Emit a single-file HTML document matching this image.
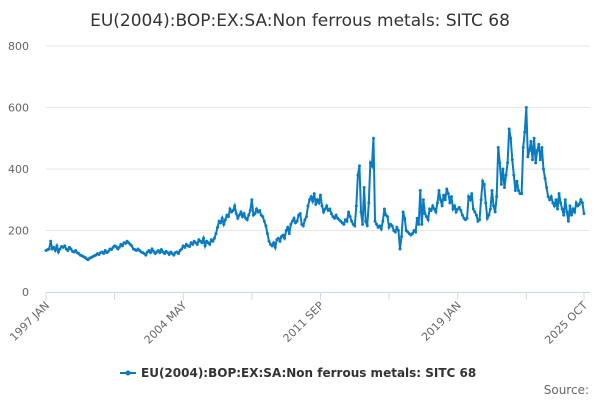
<!DOCTYPE html>
<html><head><meta charset="utf-8"><style>
body{margin:0;background:#fff;font-family:"Liberation Sans",sans-serif}
svg text{font-family:"DejaVu Sans","Liberation Sans",sans-serif}
</style></head><body>
<svg id="c" width="600" height="400" xmlns="http://www.w3.org/2000/svg">
<text x="300" y="26" text-anchor="middle" font-size="17" fill="#333">EU(2004):BOP:EX:SA:Non ferrous metals: SITC 68</text>
<g id="grid"></g><g id="axes"></g><g id="series"></g>
<g>
<line x1="120" y1="373" x2="136" y2="373" stroke="#0a7bc1" stroke-width="2"/>
<circle cx="128" cy="373" r="2.5" fill="#0a7bc1"/>
<text x="141" y="377" font-size="12" font-weight="bold" fill="#333">EU(2004):BOP:EX:SA:Non ferrous metals: SITC 68</text>
</g>
<text x="589" y="394" text-anchor="end" font-size="12" fill="#666">Source:</text>
</svg>
<script>
const yTicks=[0,200,400,600,800];
const xLabels=["1997 JAN","2004 MAY","2011 SEP","2019 JAN","2025 OCT"];
const xLabelIdx=[0,88,176,264,345];
const values=[
135,138,140,165,140,145,135,150,130,140,148,145,
150,140,135,145,140,132,130,135,128,125,120,118,
115,112,108,105,110,112,115,118,120,125,122,128,
130,125,135,128,132,140,138,145,150,148,140,145,
155,150,160,158,165,160,155,150,140,138,135,140,
135,130,128,125,120,130,135,128,140,132,125,130,
135,128,138,130,125,132,128,122,130,125,120,128,
130,125,135,140,150,145,155,150,148,160,155,165,
160,155,170,165,160,175,150,165,160,155,170,165,
175,190,210,230,225,240,220,235,250,245,270,260,
265,280,255,240,250,260,245,255,240,235,250,265,
300,250,255,270,260,265,250,245,230,215,190,165,
155,150,160,145,170,175,165,180,185,175,200,210,
190,220,230,240,225,230,250,255,220,215,235,245,
280,300,310,295,320,285,300,290,315,280,260,270,
280,265,270,255,245,240,250,240,235,230,225,220,
235,230,260,245,230,220,215,280,380,410,260,220,
340,230,215,290,420,410,500,230,220,210,215,205,
230,270,250,245,210,220,215,200,195,210,200,140,
180,260,240,200,195,190,185,190,200,195,240,220,
330,220,300,255,245,235,270,265,280,270,260,290,
330,300,280,315,300,335,320,290,310,270,280,260,
270,275,265,250,240,235,240,310,300,320,270,260,
250,230,235,300,360,350,290,240,250,270,330,280,
260,310,470,420,350,400,340,380,420,530,500,430,
380,330,360,330,320,320,470,520,600,440,460,490,
430,500,420,460,480,430,470,400,370,340,310,300,
310,290,280,300,270,320,290,270,250,300,260,230,
280,250,270,260,290,280,285,300,290,255];
const X0=46,X1=584,Y0=292,Y1=46;
const n=values.length;
const xs=i=>X0+(X1-X0)*i/(n-1);
const ys=v=>Y0-(Y0-Y1)*v/800;
const NS="http://www.w3.org/2000/svg";
function mk(t,a,p){const e=document.createElementNS(NS,t);for(const k in a)e.setAttribute(k,a[k]);p.appendChild(e);return e;}
const grid=document.getElementById('grid'),axes=document.getElementById('axes'),ser=document.getElementById('series');
yTicks.forEach(v=>{
 if(v>0){const l=mk('line',{x1:X0,x2:X1+6,y1:ys(v),y2:ys(v),stroke:'#e6e6e6'},grid);
 
 }
 const t=mk('text',{x:29,y:ys(v)+4,'text-anchor':'end','font-size':11,fill:'#666'},axes);t.textContent=v;
 
 
});
const ax=mk('line',{x1:X0,x2:X1+6,y1:Y0+0.5,y2:Y0+0.5,stroke:'#ccd6eb'},axes);


for(let i=0;i<n;i+=44){const tk=mk('line',{x1:xs(i),x2:xs(i),y1:Y0,y2:Y0+8,stroke:'#ccd6eb'},axes);
 
 }
mk('line',{x1:xs(n-1),x2:xs(n-1),y1:Y0,y2:Y0+8,stroke:'#ccd6eb'},axes);
xLabels.forEach((s,k)=>{const x=xs(xLabelIdx[k]);
 const t=mk('text',{x:x+4,y:Y0+14,'text-anchor':'end','font-size':11,fill:'#666',transform:`rotate(-45 ${x+4} ${Y0+14})`},axes);t.textContent=s;
 
 });
const pl=mk('polyline',{points:values.map((v,i)=>xs(i)+','+ys(v)).join(' '),fill:'none',stroke:'#0a7bc1','stroke-width':2},ser);


values.forEach((v,i)=>{const c=mk('circle',{cx:xs(i),cy:ys(v),r:1.5,fill:'#0a7bc1'},ser);
 
 });
</script>
</body></html>
